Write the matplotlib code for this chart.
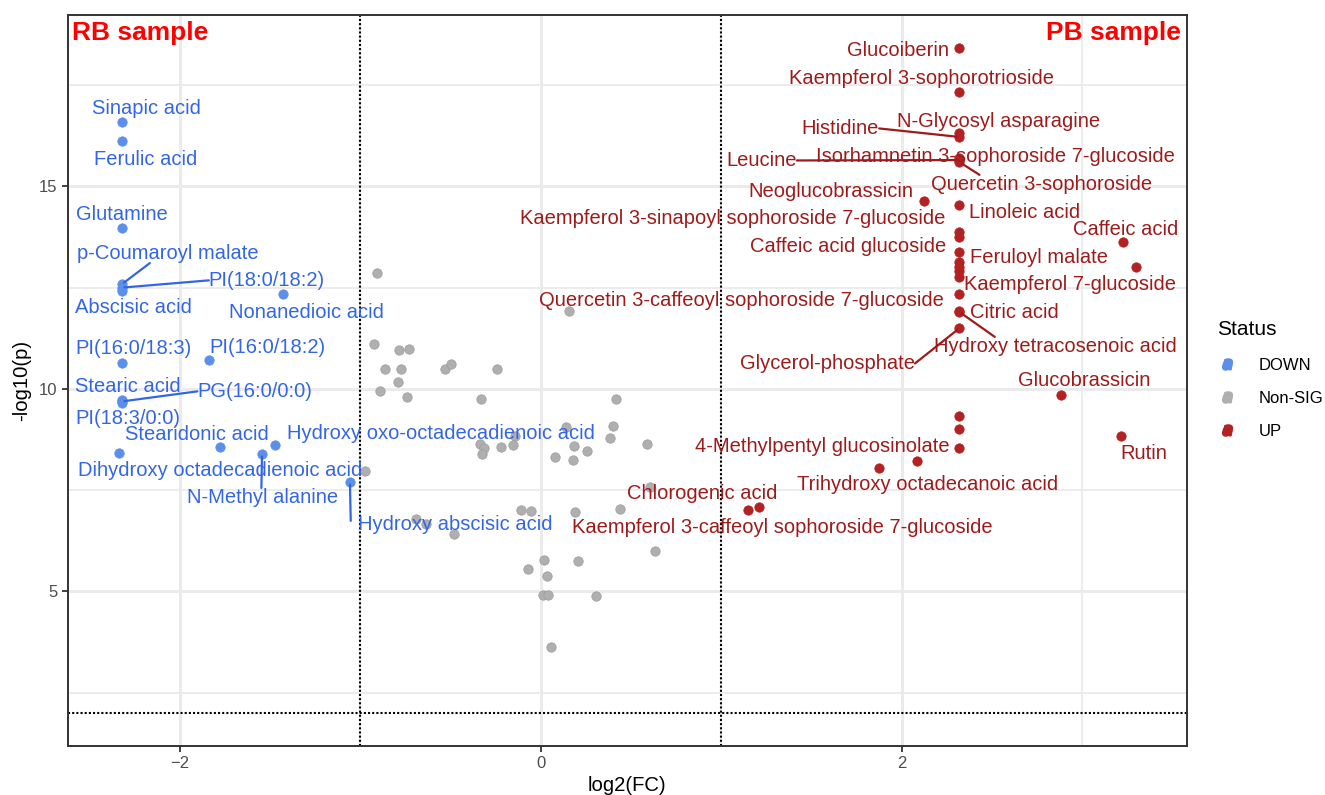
import matplotlib.pyplot as plt
from matplotlib.lines import Line2D
from matplotlib.legend_handler import HandlerTuple
from matplotlib.ticker import FixedLocator

plt.rcParams['font.family'] = ['Liberation Sans', 'DejaVu Sans']

# ---- data ---------------------------------------------------------------
ns_x = [-0.906, 0.157, -0.923, -0.785, -0.729, -0.865, -0.775, -0.532, -0.498,
        -0.244, -0.792, -0.890, -0.742, -0.331, 0.415, 0.142, 0.400, 0.382,
        0.589, -0.140, -0.339, -0.312, -0.327, -0.220, -0.151, 0.184, 0.256,
        0.079, 0.179, -0.975, 0.604, -0.111, -0.055, 0.190, 0.439, -0.692,
        -0.637, -0.478, 0.633, 0.020, 0.205, -0.072, 0.035, 0.013, 0.040,
        0.305, 0.059]
ns_y = [12.86, 11.93, 11.12, 10.95, 10.99, 10.49, 10.48, 10.50, 10.62,
        10.50, 10.17, 9.94, 9.81, 9.75, 9.75, 9.07, 9.09, 8.78,
        8.63, 8.84, 8.63, 8.54, 8.40, 8.56, 8.62, 8.60, 8.48,
        8.32, 8.25, 7.97, 7.57, 7.00, 6.99, 6.97, 7.03, 6.80,
        6.67, 6.43, 6.01, 5.77, 5.75, 5.56, 5.37, 4.91, 4.91,
        4.90, 3.64]

down_names = ['Sinapic acid', 'Ferulic acid', 'Glutamine', 'p-Coumaroyl malate',
              'PI(18:0/18:2)', 'Abscisic acid', 'Nonanedioic acid',
              'PI(16:0/18:3)', 'PI(16:0/18:2)', 'Stearic acid', 'PG(16:0/0:0)',
              'PI(18:3/0:0)', 'Stearidonic acid',
              'Hydroxy oxo-octadecadienoic acid',
              'Dihydroxy octadecadienoic acid', 'N-Methyl alanine',
              'Hydroxy abscisic acid']
down_x = [-2.322, -2.322, -2.322, -2.322, -2.322, -2.322, -1.426, -2.322,
          -1.840, -2.322, -2.322, -2.322, -1.776, -1.470, -2.338, -1.544,
          -1.057]
down_y = [16.58, 16.11, 13.97, 12.58, 12.50, 12.42, 12.34, 10.65, 10.71,
          9.72, 9.69, 9.66, 8.56, 8.61, 8.43, 8.40, 7.71]

up_names = ['Glucoiberin', 'Kaempferol 3-sophorotrioside',
            'N-Glycosyl asparagine', 'Histidine',
            'Isorhamnetin 3-sophoroside 7-glucoside', 'Leucine',
            'Quercetin 3-sophoroside', 'Linoleic acid',
            'Kaempferol 3-sinapoyl sophoroside 7-glucoside', '',
            'Caffeic acid glucoside', 'Feruloyl malate', '', '', '',
            'Quercetin 3-caffeoyl sophoroside 7-glucoside', 'Citric acid',
            'Hydroxy tetracosenoic acid', 'Glycerol-phosphate', '', '',
            '4-Methylpentyl glucosinolate', 'Neoglucobrassicin',
            'Caffeic acid', 'Kaempferol 7-glucoside', 'Glucobrassicin', 'Rutin',
            'Trihydroxy octadecanoic acid', '',
            'Kaempferol 3-caffeoyl sophoroside 7-glucoside', 'Chlorogenic acid']
up_x = [2.320, 2.320, 2.320, 2.320, 2.320, 2.320, 2.320, 2.320, 2.320, 2.320,
        2.320, 2.320, 2.320, 2.320, 2.320, 2.320, 2.320, 2.320, 2.320, 2.320,
        2.320, 2.320, 2.126, 3.228, 3.298, 2.885, 3.213, 2.084, 1.872, 1.147,
        1.207]
up_y = [18.41, 17.32, 16.33, 16.22, 15.70, 15.65, 15.60, 14.53, 13.88, 13.76,
        13.38, 13.14, 13.02, 12.90, 12.77, 12.35, 11.93, 11.90, 11.50, 9.33,
        9.00, 8.53, 14.65, 13.62, 13.00, 9.86, 8.85, 8.23, 8.04, 7.00,
        7.08]

status_labels = ['DOWN', 'Non-SIG', 'UP']

# ---- label layout (repel-style, placed by hand) --------------------------
label_pos = {
    'Sinapic acid': (-2.187, 16.92), 'Ferulic acid': (-2.187, 15.66),
    'Glutamine': (-2.320, 14.31), 'p-Coumaroyl malate': (-2.065, 13.34),
    'PI(18:0/18:2)': (-1.517, 12.68), 'Abscisic acid': (-2.254, 12.01),
    'Nonanedioic acid': (-1.296, 11.89), 'PI(16:0/18:3)': (-2.254, 11.00),
    'PI(16:0/18:2)': (-1.512, 11.02), 'Stearic acid': (-2.287, 10.06),
    'PG(16:0/0:0)': (-1.584, 9.94), 'PI(18:3/0:0)': (-2.287, 9.27),
    'Stearidonic acid': (-1.905, 8.87),
    'Hydroxy oxo-octadecadienoic acid': (-0.554, 8.90),
    'Dihydroxy octadecadienoic acid': (-1.777, 7.98),
    'N-Methyl alanine': (-1.539, 7.32), 'Hydroxy abscisic acid': (-0.476, 6.65),
    'Glucoiberin': (1.977, 18.36), 'Kaempferol 3-sophorotrioside': (2.110, 17.66),
    'N-Glycosyl asparagine': (2.536, 16.60), 'Histidine': (1.661, 16.43),
    'Leucine': (1.224, 15.64),
    'Isorhamnetin 3-sophoroside 7-glucoside': (2.519, 15.74),
    'Quercetin 3-sophoroside': (2.774, 15.05),
    'Neoglucobrassicin': (1.606, 14.87), 'Linoleic acid': (2.680, 14.36),
    'Kaempferol 3-sinapoyl sophoroside 7-glucoside': (1.063, 14.21),
    'Caffeic acid': (3.239, 13.94), 'Caffeic acid glucoside': (1.705, 13.52),
    'Feruloyl malate': (2.763, 13.24), 'Kaempferol 7-glucoside': (2.935, 12.58),
    'Quercetin 3-caffeoyl sophoroside 7-glucoside': (1.113, 12.18),
    'Citric acid': (2.625, 11.89), 'Hydroxy tetracosenoic acid': (2.852, 11.05),
    'Glycerol-phosphate': (1.589, 10.63), 'Glucobrassicin': (3.012, 10.21),
    'Rutin': (3.339, 8.40), '4-Methylpentyl glucosinolate': (1.561, 8.58),
    'Trihydroxy octadecanoic acid': (2.143, 7.64),
    'Chlorogenic acid': (0.897, 7.42),
    'Kaempferol 3-caffeoyl sophoroside 7-glucoside': (1.340, 6.58),
}
# where the leader segment leaves the label box
segment_relpos = {
    'p-Coumaroyl malate': (0.40, 0.0), 'PI(18:0/18:2)': (0.0, 0.5),
    'PG(16:0/0:0)': (0.0, 0.5), 'N-Methyl alanine': (0.49, 1.0),
    'Hydroxy abscisic acid': (-0.035, 0.7), 'Histidine': (1.0, 0.5),
    'Leucine': (1.0, 0.5), 'Quercetin 3-sophoroside': (0.22, 1.0),
    'Hydroxy tetracosenoic acid': (0.25, 1.0), 'Glycerol-phosphate': (1.0, 0.5),
}

blue_dot, blue_txt = '#5C8FEA', '#3366E6'
red_dot, red_txt = '#B22222', '#9E1B1B'
grey_dot = '#AFAFAF'


def add_labels(ax, names, xs, ys, color):
    for name, x, y in zip(names, xs, ys):
        if not name:
            continue
        lx, ly = label_pos[name]
        if name in segment_relpos:
            ax.annotate(
                name, xy=(x, y), xytext=(lx, ly),
                ha='center', va='center', fontsize=14.5, color=color,
                arrowprops=dict(arrowstyle='-', color=color, lw=1.6,
                                relpos=segment_relpos[name], patchA=None,
                                shrinkA=0, shrinkB=2)
            )
        else:
            ax.text(lx, ly, name, ha='center', va='center',
                    fontsize=14.5, color=color)


fig = plt.figure(figsize=(13.25, 7.95), dpi=100)
ax = fig.add_axes([0.0513, 0.0616, 0.8442, 0.9195])

ax.scatter(ns_x, ns_y, s=46, color=grey_dot, edgecolor='#9C9C9C', lw=0.5, zorder=3)
ax.scatter(down_x, down_y, s=46, color=blue_dot, edgecolor=blue_dot, lw=0.5, zorder=3)
ax.scatter(up_x, up_y, s=46, color=red_dot, edgecolor=red_dot, lw=0.5, zorder=3)

for xv in (-1, 1):
    ax.axvline(xv, color='black', ls=(0, (1, 1)), lw=1.5, zorder=2)
ax.axhline(2, color='black', ls=(0, (1, 1)), lw=1.5, zorder=2)

add_labels(ax, down_names, down_x, down_y, blue_txt)
add_labels(ax, up_names, up_x, up_y, red_txt)

ax.text(0.004, 0.992, 'RB sample', transform=ax.transAxes, ha='left', va='top',
        fontsize=19, fontweight='bold', color='#FF0000')
ax.text(0.995, 0.992, 'PB sample', transform=ax.transAxes, ha='right', va='top',
        fontsize=19, fontweight='bold', color='#FF0000')

ax.set_xlim(-2.619, 3.578)
ax.set_ylim(1.185, 19.23)
ax.xaxis.set_major_locator(FixedLocator([-2, 0, 2]))
ax.xaxis.set_minor_locator(FixedLocator([-1, 1, 3]))
ax.yaxis.set_major_locator(FixedLocator([5, 10, 15]))
ax.yaxis.set_minor_locator(FixedLocator([2.5, 7.5, 12.5, 17.5]))
ax.grid(which='major', color='#EBEBEB', lw=2.1)
ax.grid(which='minor', color='#EBEBEB', lw=1.3)
ax.set_axisbelow(True)
ax.tick_params(which='major', length=4, width=1.3, color='#333333',
               labelsize=12, labelcolor='#4D4D4D')
ax.tick_params(which='minor', length=0)
for sp in ax.spines.values():
    sp.set_color('#333333')
    sp.set_linewidth(1.4)

ax.set_xlabel('log2(FC)', fontsize=14.6, labelpad=3)
ax.set_ylabel('-log10(p)', fontsize=14.6, labelpad=6)

handles = []
for c in (blue_dot, grey_dot, red_dot):
    handles.append((Line2D([], [], ls='', marker='o', ms=6, color=c),
                    Line2D([], [], ls='', marker='$a$', ms=8, color=c)))
leg = fig.legend(handles, status_labels, title='Status',
                 handler_map={tuple: HandlerTuple(ndivide=1)},
                 loc='upper left', bbox_to_anchor=(0.907, 0.616),
                 frameon=False, fontsize=12, title_fontsize=15,
                 handlelength=1.2, handletextpad=1.3, labelspacing=1.1,
                 alignment='left')

fig.savefig('out.png', dpi=100)
